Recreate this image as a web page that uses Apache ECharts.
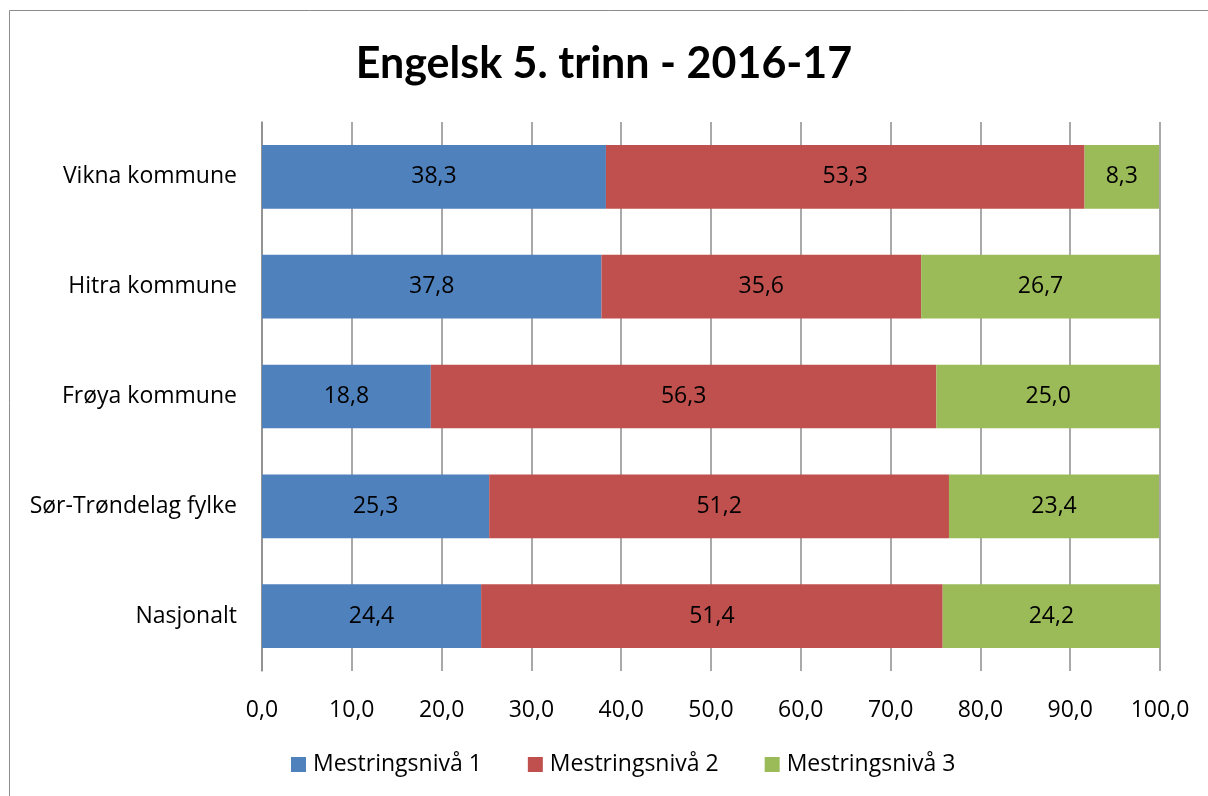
<!DOCTYPE html>
<html>
<head>
  <meta charset="UTF-8">
  <title>Engelsk 5. trinn - 2016-17</title>
  <script src="https://cdn.jsdelivr.net/npm/echarts@6/dist/echarts.min.js"></script>
  <style>
    html, body { margin: 0; padding: 0; background: #fff; }
    #chart { width: 1208px; height: 796px; }
  </style>
</head>
<body>
  <div id="chart"></div>
  <script>
    // data
    const categories = ['Vikna kommune', 'Hitra kommune', 'Frøya kommune', 'Sør-Trøndelag fylke', 'Nasjonalt'];
    const level1 = [38.3, 37.8, 18.8, 25.3, 24.4];
    const level2 = [53.3, 35.6, 56.3, 51.2, 51.4];
    const level3 = [8.3, 26.7, 25.0, 23.4, 24.2];
    const seriesNames = ['Mestringsnivå 1', 'Mestringsnivå 2', 'Mestringsnivå 3'];
    const colors = ['#4F81BD', '#C0504D', '#9BBB59'];

    const font = '"Open Sans", Lato, sans-serif';
    const titleFont = 'Lato, "Open Sans", sans-serif';
    const fmt = v => Number(v).toFixed(1).replace('.', ',');

    const chart = echarts.init(document.getElementById('chart'));

    function barSeries(name, data, color) {
      return {
        name: name,
        type: 'bar',
        stack: 'total',
        data: data,
        barCategoryGap: '42%',
        itemStyle: { color: color },
        label: {
          show: true,
          position: 'inside',
          color: '#000',
          fontFamily: font,
          fontSize: 23,
          formatter: p => fmt(p.value)
        }
      };
    }

    chart.setOption({
      animation: false,
      color: colors,
      title: {
        text: 'Engelsk 5. trinn - 2016-17',
        left: 'center',
        top: 38,
        textStyle: { fontFamily: titleFont, fontWeight: 'bold', fontSize: 43, color: '#000' }
      },
      graphic: [{
        type: 'rect',
        shape: { x: 9.5, y: 10.5, width: 1300, height: 900 },
        style: { fill: 'none', stroke: '#8c8c8c', lineWidth: 1 },
        silent: true
      }],
      legend: {
        bottom: 15,
        left: 286,
        itemWidth: 15,
        itemHeight: 15,
        itemGap: 46,
        icon: 'rect',
        textStyle: { fontFamily: font, fontSize: 23, color: '#000', padding: [0, 0, 0, 2] },
        data: seriesNames
      },
      grid: { left: 262, right: 48, top: 122, bottom: 125, containLabel: false },
      xAxis: {
        type: 'value',
        min: 0,
        max: 100,
        interval: 10,
        axisLine: { show: false },
        axisTick: { show: false },
        splitLine: { show: true, lineStyle: { color: '#8c8c8c', width: 1.5 } },
        axisLabel: { fontFamily: font, fontSize: 23, color: '#000', margin: 28, formatter: fmt }
      },
      yAxis: {
        type: 'category',
        inverse: true,
        data: categories,
        axisLine: { show: true, lineStyle: { color: '#8c8c8c', width: 1.5 } },
        axisTick: { show: false },
        axisLabel: { fontFamily: font, fontSize: 23, color: '#000', margin: 25 }
      },
      series: [
        barSeries(seriesNames[0], level1, colors[0]),
        barSeries(seriesNames[1], level2, colors[1]),
        barSeries(seriesNames[2], level3, colors[2])
      ]
    });
  </script>
</body>
</html>
